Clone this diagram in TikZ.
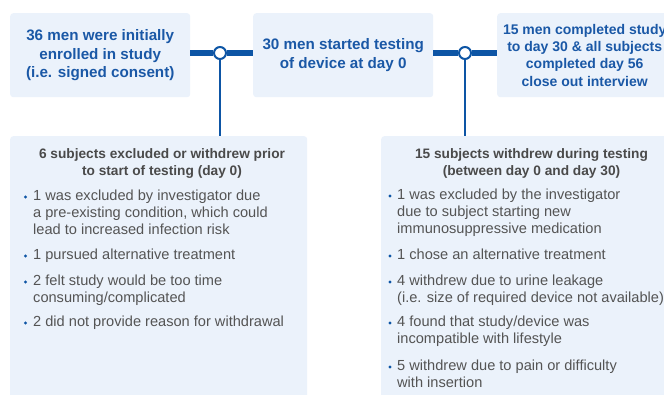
\documentclass[tikz,border=0pt]{standalone}
\usepackage{fontspec}
\setmainfont{Liberation Sans}
\usetikzlibrary{calc}
\definecolor{boxfill}{HTML}{EBF2FB}
\definecolor{mblue}{HTML}{0D55A5}
\definecolor{tblue}{HTML}{1A58A6}
\definecolor{bodygray}{HTML}{545454}
\definecolor{headgray}{HTML}{4A4A4A}
\begin{document}
\begin{tikzpicture}[x=1pt,y=-1pt,
  box/.style={fill=boxfill, rounded corners=3pt, inner sep=0pt, anchor=north west},
  toptext/.style={font=\bfseries\fontsize{15.2}{18.5}\selectfont, text=tblue, align=center},
  toptextsmall/.style={font=\bfseries\fontsize{14}{17.2}\selectfont, text=tblue, align=center},
  headtext/.style={font=\bfseries\fontsize{13.7}{17}\selectfont, text=headgray, align=center, inner sep=0pt, anchor=north},
  itemtext/.style={font=\fontsize{14.6}{16.7}\selectfont, text=bodygray, align=left, inner sep=0pt, anchor=north west},
  bar/.style={draw=mblue, line width=5.5pt},
  stem/.style={draw=mblue, line width=2.2pt},
  joint/.style={circle, draw=mblue, fill=white, line width=2pt, minimum size=12pt, inner sep=0pt},
  dot/.style={fill=mblue}
]
\useasboundingbox (0,0) rectangle (664,395);

% top boxes
\node[box, minimum width=180pt, minimum height=84pt, toptext] (b1) at (10,13)
  {36 men were initially\\enrolled in study\\(i.e. signed consent)};
\node[box, minimum width=180pt, minimum height=84pt, toptext] (b2) at (253,13)
  {30 men started testing\\of device at day 0};
\node[box, minimum width=175pt, minimum height=84pt, toptextsmall] (b3) at (497,13)
  {15 men completed study\\to day 30 \& all subjects\\completed day 56\\close out interview};

% bottom boxes
\node[box, minimum width=297pt, minimum height=270pt] (b4) at (10,136) {};
\node[box, minimum width=290pt, minimum height=270pt] (b5) at (381,136) {};

% joints
\node[joint] (c1) at (220,53) {};
\node[joint] (c2) at (465,53) {};

% connectors
\draw[bar] (b1.east |- c1) -- (c1.west);
\draw[bar] (c1.east) -- (b2.west |- c1);
\draw[bar] (b2.east |- c2) -- (c2.west);
\draw[bar] (c2.east) -- (b3.west |- c2);
\draw[stem] (c1.south) -- (c1 |- b4.north);
\draw[stem] (c2.south) -- (c2 |- b5.north);

% box 4 text
\node[headtext] (t4) at (162,148) {6 subjects excluded or withdrew prior\\to start of testing (day 0)};
\node[itemtext] (i41) at (33,190) {1 was excluded by investigator due\\a pre-existing condition, which could\\lead to increased infection risk};
\node[itemtext] (i42) at (33,249) {1 pursued alternative treatment};
\node[itemtext] (i43) at (33,275) {2 felt study would be too time\\consuming/complicated};
\node[itemtext] (i44) at (33,316) {2 did not provide reason for withdrawal};
\foreach \n in {i41,i42,i43,i44}
  \fill[dot] ($(\n.north west)+(-7.5,7)$) circle (1.7pt);

% box 5 text
\node[headtext] (t5) at (531.5,148) {15 subjects withdrew during testing\\(between day 0 and day 30)};
\node[itemtext] (i51) at (397,189) {1 was excluded by the investigator\\due to subject starting new\\immunosuppressive medication};
\node[itemtext] (i52) at (397,249) {1 chose an alternative treatment};
\node[itemtext] (i53) at (397,275) {4 withdrew due to urine leakage\\(i.e. size of required device not available)};
\node[itemtext] (i54) at (397,316) {4 found that study/device was\\incompatible with lifestyle};
\node[itemtext] (i55) at (397,360) {5 withdrew due to pain or difficulty\\with insertion};
\foreach \n in {i51,i52,i53,i54,i55}
  \fill[dot] ($(\n.north west)+(-7,7)$) circle (1.7pt);
\end{tikzpicture}
\end{document}
